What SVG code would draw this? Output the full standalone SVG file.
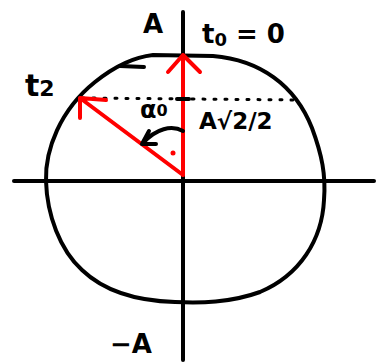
<svg xmlns="http://www.w3.org/2000/svg" width="376" height="362" viewBox="0 0 376 362">
<style>
.k{fill:none;stroke:#000;stroke-width:4;stroke-linecap:round;stroke-linejoin:round}
.r{fill:none;stroke:#ff0000;stroke-width:4;stroke-linecap:round;stroke-linejoin:round}
.t{font-family:"DejaVu Sans","Liberation Sans",sans-serif;font-weight:bold;fill:#000}
</style>
<rect width="376" height="362" fill="#fff"/>
<g id="circle">
<path class="k" d="M153,55 L213,56 C260,60 295,85 312,128 C322,155 326,175 324,200 C322,240 300,275 260,292 C230,303 200,303 175,302 C140,301 105,292 82,270 C60,250 47,215 46,181 C45,150 60,110 95,82 C115,66 135,57 153,55 Z"/>
<path class="k" d="M144,67 L120,66" stroke-width="4"/>
</g>
<g id="axes">
<line class="k" x1="183" y1="12" x2="183" y2="360"/>
<line class="k" x1="14" y1="181" x2="374" y2="181"/>
</g>
<g id="connectors">
<line x1="82" y1="98" x2="300" y2="100" stroke="#000" stroke-width="3" stroke-dasharray="2 9" stroke-linecap="round"/>
<path class="r" d="M183,175 L183,55 M168,72 L183,55 L200,72"/>
<path class="r" d="M183,175 L80,98 M106,100 L80,98 L80,118"/>
<circle cx="173" cy="153" r="2.5" fill="#ff0000"/>
<path class="k" d="M183,131 C172,125 156,128 142,144 M142,144 L156,144 M142,144 L149,131"/>
<path class="k" d="M177,99 L189,99"/>
</g>
<g id="labels">
<text class="t" x="143" y="33" font-size="26">A</text>
<text class="t" x="202" y="43" font-size="26">t<tspan font-size="18" dy="3">0</tspan><tspan dy="-3"> = 0</tspan></text>
<text class="t" x="25" y="96" font-size="30">t<tspan font-size="22">2</tspan></text>
<text class="t" x="140" y="118" font-size="24">α<tspan font-size="16" dy="-2">0</tspan></text>
<text class="t" x="199" y="129" font-size="23">A√2/2</text>
<text class="t" x="110" y="353" font-size="26">−A</text>
</g>
</svg>
